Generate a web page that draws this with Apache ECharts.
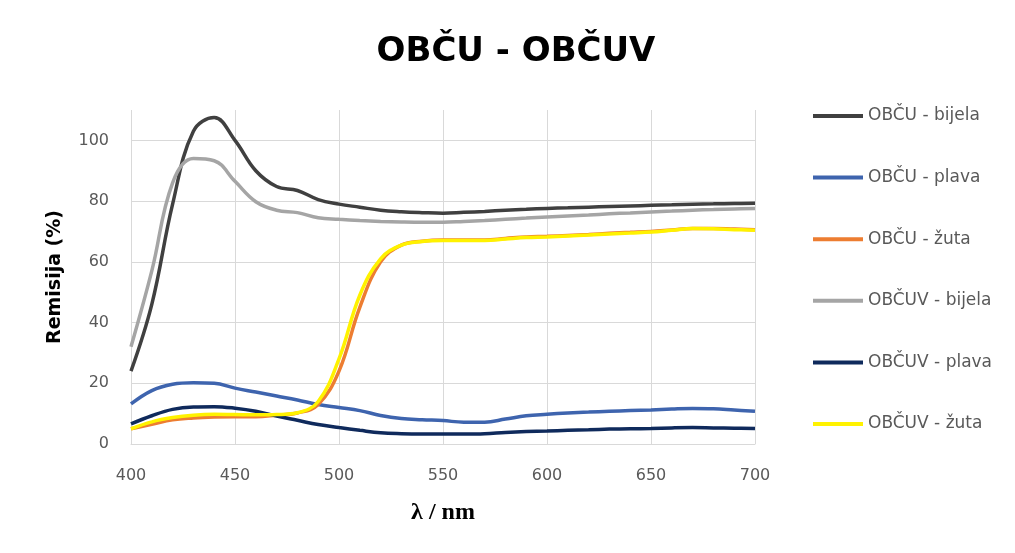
<!DOCTYPE html>
<html>
<head>
<meta charset="utf-8">
<script src="https://cdn.jsdelivr.net/npm/echarts@6/dist/echarts.min.js"></script>
<style>
html,body{margin:0;padding:0;background:#fff;}
#chart{width:1015px;height:553px;}
</style>
</head>
<body>
<div id="chart"></div>
<script>
var wavelengths = [400,410,420,430,440,450,460,470,480,490,500,510,520,530,540,550,560,570,580,590,600,610,620,630,640,650,660,670,680,690,700];
var seriesNames = ["OBČU - bijela","OBČU - plava","OBČU - žuta","OBČUV - bijela","OBČUV - plava","OBČUV - žuta"];
var obcuBijela  = [24,46,79,103,107.5,100,90,84.8,83.5,80.5,79,78,77,76.5,76.2,76,76.3,76.6,77,77.3,77.6,77.8,78,78.2,78.4,78.6,78.8,79,79.1,79.2,79.3];
var obcuPlava   = [13.2,17.6,19.7,20.2,20,18.4,17.1,15.8,14.5,13,12,11,9.4,8.4,8,7.7,7.2,7.2,8.2,9.3,9.8,10.2,10.5,10.8,11,11.2,11.5,11.7,11.6,11.2,10.8];
var obcuZuta    = [5,6.5,8,8.6,8.9,9,9,9.5,10.2,13,24,45,60,65.5,66.8,67.2,67.2,67.2,67.7,68.2,68.4,68.7,69,69.4,69.7,70,70.5,71,71,70.8,70.6];
var obcuvBijela = [32,57,86,94,93.3,86.5,79.8,77,76.2,74.5,74,73.6,73.3,73.1,73,73,73.3,73.6,74,74.4,74.8,75.1,75.4,75.8,76.1,76.4,76.7,77,77.2,77.4,77.6];
var obcuvPlava  = [6.6,9.3,11.4,12.2,12.3,11.8,10.8,9.2,7.8,6.4,5.4,4.5,3.7,3.4,3.3,3.3,3.3,3.4,3.8,4.1,4.3,4.5,4.7,4.9,5,5.1,5.3,5.4,5.3,5.2,5.1];
var obcuvZuta   = [5,7.3,8.7,9.5,9.8,9.7,9.6,9.7,10.3,14,28,49,61,65.5,66.7,67,67,67,67.5,68,68.2,68.5,68.8,69.2,69.5,69.8,70.4,71,70.9,70.6,70.4];
var xTicks = [400,450,500,550,600,650,700];
var yTicks = [0,20,40,60,80,100];

var allValues = [obcuBijela, obcuPlava, obcuZuta, obcuvBijela, obcuvPlava, obcuvZuta];
var colors = ["#404040","#3E64AE","#ED7D31","#A5A5A5","#0F2A5C","#FFF200"];

function pairs(vals){ return wavelengths.map(function(w,i){ return [w, vals[i]]; }); }

var series = seriesNames.map(function(name, i){
  return {
    name: name,
    type: 'line',
    smooth: 0.4,
    showSymbol: false,
    symbol: 'none',
    data: pairs(allValues[i]),
    lineStyle: {width: 3.5, color: colors[i]},
    itemStyle: {color: colors[i]}
  };
});

var chart = echarts.init(document.getElementById('chart'), null, {renderer:'canvas'});
chart.setOption({
  animation: false,
  backgroundColor: '#ffffff',
  title: {
    text: 'OBČU - OBČUV',
    left: 511,
    textAlign: 'center',
    top: 30,
    textStyle: {fontFamily: 'DejaVu Sans', fontWeight: 'bold', fontSize: 34, color: '#000000'}
  },
  legend: {
    orient: 'vertical',
    left: 813,
    top: 106,
    padding: 0,
    itemWidth: 50,
    itemHeight: 4,
    itemGap: 41.6,
    icon: 'rect',
    data: seriesNames,
    textStyle: {fontFamily: 'DejaVu Sans', fontSize: 17, color: '#595959', lineHeight: 20}
  },
  grid: {left: 131, right: 260, top: 110, bottom: 109, containLabel: false},
  xAxis: {
    type: 'value',
    min: 400, max: 700, interval: 50,
    name: 'λ / nm',
    nameLocation: 'middle',
    nameGap: 57,
    nameTextStyle: {fontFamily: 'Liberation Serif', fontWeight: 'bold', fontSize: 24, color: '#000'},
    axisLine: {show: true, lineStyle: {color: '#D9D9D9', width: 1}},
    axisTick: {show: false},
    axisLabel: {margin: 24, fontFamily: 'DejaVu Sans', fontSize: 16, color: '#595959',
      formatter: function(v){ return xTicks.indexOf(v) >= 0 ? String(v) : ''; }},
    splitLine: {show: true, lineStyle: {color: '#D9D9D9', width: 1}}
  },
  yAxis: {
    type: 'value',
    min: 0, max: 110, interval: 20,
    name: 'Remisija (%)',
    nameLocation: 'middle',
    nameRotate: 90,
    nameGap: 66,
    nameTextStyle: {fontFamily: 'DejaVu Sans', fontWeight: 'bold', fontSize: 19, color: '#000'},
    axisLine: {show: false},
    axisTick: {show: false},
    axisLabel: {margin: 22, fontFamily: 'DejaVu Sans', fontSize: 16, color: '#595959', showMaxLabel: false,
      formatter: function(v){ return yTicks.indexOf(v) >= 0 ? String(v) : ''; }},
    splitLine: {show: true, showMaxLine: false, lineStyle: {color: '#D9D9D9', width: 1}}
  },
  series: series
});
</script>
</body>
</html>
